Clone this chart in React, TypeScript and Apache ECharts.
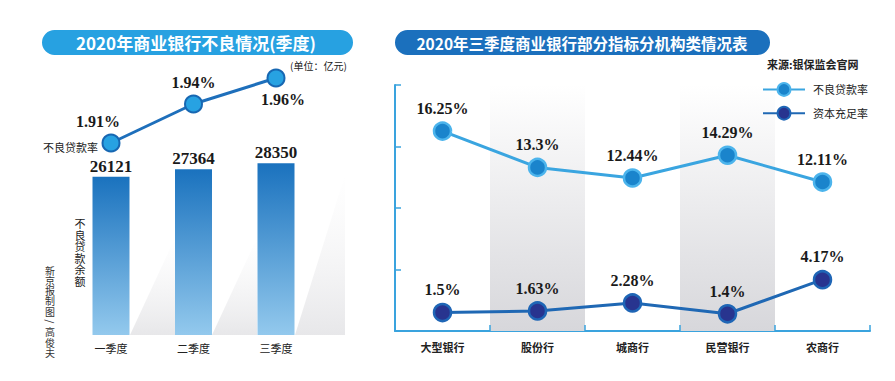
import React, { useEffect, useRef } from "react";
import * as echarts from "echarts";

const quarters = ["一季度", "二季度", "三季度"];
const nplBalance = [26121, 27364, 28350];
const nplRateQuarter = [1.91, 1.94, 1.96];

const bankTypes = ["大型银行", "股份行", "城商行", "民营银行", "农商行"];
const upperRates = [16.25, 13.3, 12.44, 14.29, 12.11];
const lowerRates = [1.5, 1.63, 2.28, 1.4, 4.17];
const shadeBands = ["-", 20, "-", 20, "-"];

const legendNames = ["不良贷款率", "资本充足率"];

const CJK = "'Noto Sans CJK SC', 'Noto Sans', sans-serif";
const SERIF = "'Liberation Serif', 'DejaVu Serif', serif";

function verticalText(str: string, x: number, y0: number, step: number, size: number, color: string) {
  return Array.from(str).map((ch, i) => ({
    type: "text",
    x,
    y: y0 + i * step,
    rotation: ch === "/" ? -Math.PI / 2 : 0,
    style: {
      text: ch,
      fill: color,
      fontSize: size,
      fontFamily: CJK,
      align: "center",
      verticalAlign: "middle",
    },
  }));
}

export default function App() {
  const ref = useRef<HTMLDivElement>(null);

  useEffect(() => {
    document.body.style.margin = "0";
    if (!ref.current) return;
    const chart = echarts.init(ref.current, null, { renderer: "svg" });

    const shadow = (pts: number[][]) => ({
      type: "polygon",
      z: 1,
      silent: true,
      shape: { points: pts },
      style: {
        fill: new echarts.graphic.LinearGradient(0, 1, 0, 0, [
          { offset: 0, color: "rgba(170,170,178,0.28)" },
          { offset: 1, color: "rgba(210,210,215,0)" },
        ]),
      },
    });

    const option: any = {
      animation: false,
      backgroundColor: "#ffffff",
      grid: [
        { left: 69.75, right: 577.75, top: 92.6, bottom: 46 },
        { left: 69.75, right: 577.75, top: 78, bottom: 225 },
        { left: 395, right: 25, top: 85, bottom: 50 },
      ],
      xAxis: [
        {
          gridIndex: 0,
          type: "category",
          data: quarters,
          axisLine: { show: false },
          axisTick: { show: false },
          axisLabel: { margin: 7, fontSize: 11, color: "#222", fontFamily: CJK },
        },
        {
          gridIndex: 1,
          type: "category",
          data: quarters,
          show: false,
        },
        {
          gridIndex: 2,
          type: "category",
          data: bankTypes,
          axisLine: { lineStyle: { color: "#3aa3de", width: 2 } },
          axisTick: { show: true, inside: true, length: 6, lineStyle: { color: "#3aa3de", width: 1.5 } },
          axisLabel: { margin: 10, fontSize: 11, color: "#222", fontFamily: CJK, fontWeight: "bold" },
        },
      ],
      yAxis: [
        { gridIndex: 0, type: "value", min: 0, max: 40000, show: false },
        { gridIndex: 1, type: "value", min: 1.9, max: 1.96, show: false },
        {
          gridIndex: 2,
          type: "value",
          min: 0,
          max: 20,
          interval: 5,
          axisLine: { show: true, lineStyle: { color: "#3aa3de", width: 2 } },
          axisTick: { show: true, inside: true, length: 6, lineStyle: { color: "#3aa3de", width: 1.5 } },
          axisLabel: { show: false },
          splitLine: { show: false },
        },
      ],
      legend: {
        data: legendNames,
        orient: "vertical",
        left: 757,
        top: 77,
        itemWidth: 42,
        itemHeight: 16,
        itemGap: 9,
        textStyle: { fontSize: 11, color: "#222", fontFamily: CJK, padding: [0, 0, 0, 3] },
        selectedMode: false,
      },
      series: [
        {
          type: "bar",
          xAxisIndex: 0,
          yAxisIndex: 0,
          data: nplBalance,
          barWidth: 37,
          itemStyle: {
            color: new echarts.graphic.LinearGradient(0, 0, 0, 1, [
              { offset: 0, color: "#1a72be" },
              { offset: 1, color: "#93c9ed" },
            ]),
          },
          label: {
            show: true,
            position: "top",
            distance: 2,
            fontFamily: SERIF,
            fontWeight: "bold",
            fontSize: 17,
            color: "#1a1a1a",
          },
        },
        {
          type: "line",
          xAxisIndex: 1,
          yAxisIndex: 1,
          data: nplRateQuarter.map((v, i) => ({
            value: v,
            label:
              i === 0
                ? { position: "top", offset: [-13, 0] }
                : i === 2
                ? { position: "bottom", offset: [7, 0] }
                : { position: "top" },
          })),
          symbol: "circle",
          symbolSize: 17,
          lineStyle: { color: "#1e6fbb", width: 3 },
          itemStyle: { color: "#27a2e2", borderColor: "#1767b2", borderWidth: 2 },
          label: {
            show: true,
            distance: 4,
            formatter: "{c}%",
            fontFamily: SERIF,
            fontWeight: "bold",
            fontSize: 16,
            color: "#1a1a1a",
          },
          z: 5,
        },
        {
          type: "bar",
          name: "band",
          xAxisIndex: 2,
          yAxisIndex: 2,
          data: shadeBands,
          barWidth: "100%",
          silent: true,
          z: 0,
          itemStyle: {
            color: new echarts.graphic.LinearGradient(0, 0, 0, 1, [
              { offset: 0, color: "#ffffff" },
              { offset: 1, color: "#d7d7db" },
            ]),
          },
        },
        {
          type: "line",
          name: legendNames[0],
          xAxisIndex: 2,
          yAxisIndex: 2,
          data: upperRates,
          symbol: "circle",
          symbolSize: 17,
          lineStyle: { color: "#3aa5e0", width: 3 },
          itemStyle: { color: "#1a84cc", borderColor: "#4cb4ec", borderWidth: 2.5 },
          label: {
            show: true,
            position: "top",
            distance: 5,
            formatter: "{c}%",
            fontFamily: SERIF,
            fontWeight: "bold",
            fontSize: 16,
            color: "#1a1a1a",
          },
          z: 5,
        },
        {
          type: "line",
          name: legendNames[1],
          xAxisIndex: 2,
          yAxisIndex: 2,
          data: lowerRates,
          symbol: "circle",
          symbolSize: 17,
          lineStyle: { color: "#1f68b4", width: 3 },
          itemStyle: { color: "#28348f", borderColor: "#1f66b6", borderWidth: 2.5 },
          label: {
            show: true,
            position: "top",
            distance: 5,
            formatter: "{c}%",
            fontFamily: SERIF,
            fontWeight: "bold",
            fontSize: 16,
            color: "#1a1a1a",
          },
          z: 5,
        },
      ],
      graphic: [
        shadow([[130, 335], [175, 238], [175, 335]]),
        shadow([[212, 335], [257, 238], [257, 335]]),
        shadow([[295, 335], [345, 175], [345, 335]]),
        {
          type: "rect",
          shape: { x: 42, y: 30, width: 311, height: 25, r: 12.5 },
          style: { fill: "#27a1e1" },
        },
        {
          type: "text",
          x: 196,
          y: 42.5,
          style: {
            text: "2020年商业银行不良情况(季度)",
            fill: "#ffffff",
            fontSize: 17,
            fontWeight: "bold",
            fontFamily: CJK,
            align: "center",
            verticalAlign: "middle",
          },
        },
        {
          type: "rect",
          shape: { x: 395, y: 30, width: 375, height: 25, r: 12.5 },
          style: { fill: "#1b70bd" },
        },
        {
          type: "text",
          x: 582,
          y: 42.5,
          style: {
            text: "2020年三季度商业银行部分指标分机构类情况表",
            fill: "#ffffff",
            fontSize: 15.5,
            fontWeight: "bold",
            fontFamily: CJK,
            align: "center",
            verticalAlign: "middle",
          },
        },
        {
          type: "text",
          x: 290,
          y: 65,
          style: {
            text: "(单位：亿元)",
            fill: "#222",
            fontSize: 10,
            fontFamily: CJK,
            verticalAlign: "middle",
          },
        },
        {
          type: "text",
          x: 98,
          y: 147,
          style: {
            text: "不良贷款率",
            fill: "#222",
            fontSize: 11,
            fontFamily: CJK,
            align: "right",
            verticalAlign: "middle",
          },
        },
        ...verticalText("不良贷款余额", 80, 223, 11.5, 11, "#222"),
        ...verticalText("新京报制图/高俊夫", 50, 270, 10.3, 10, "#333"),
        {
          type: "text",
          x: 767,
          y: 64,
          style: {
            text: "来源:银保监会官网",
            fill: "#222",
            fontSize: 11,
            fontWeight: "bold",
            fontFamily: CJK,
            verticalAlign: "middle",
          },
        },
      ],
    };

    chart.setOption(option);
    return () => chart.dispose();
  }, []);

  return <div ref={ref} style={{ width: 895, height: 381 }} />;
}
